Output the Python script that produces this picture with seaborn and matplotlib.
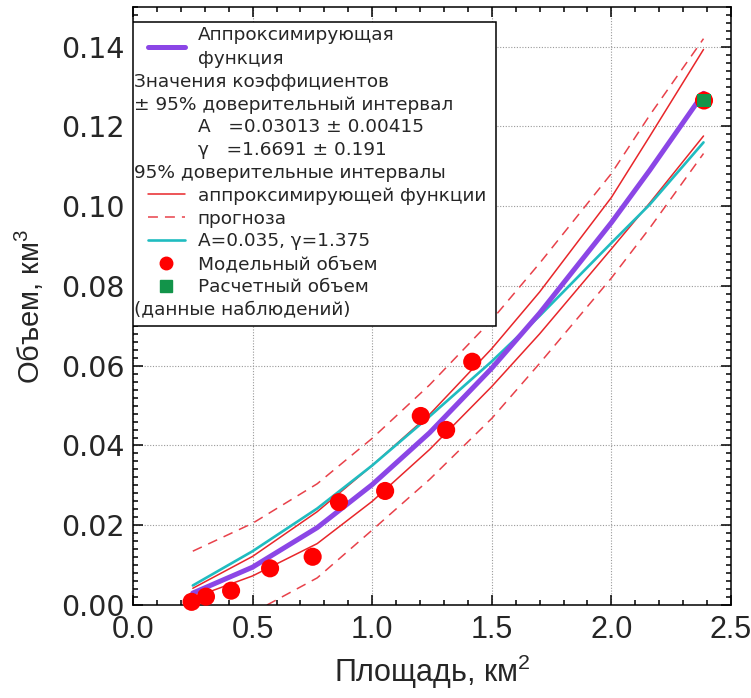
import seaborn as sns
import matplotlib
matplotlib.use('Agg')
import matplotlib.pyplot as plt
from matplotlib.lines import Line2D
from matplotlib.patches import Rectangle
from matplotlib.legend_handler import HandlerLine2D
from matplotlib.ticker import MultipleLocator, FormatStrFormatter
from matplotlib.transforms import Affine2D

area_model = [0.245, 0.305, 0.41, 0.573, 0.751, 0.861, 1.054, 1.203, 1.309, 1.418, 2.387]
vol_model = [0.0008, 0.0021, 0.0036, 0.0092, 0.0121, 0.0258, 0.0286, 0.0474, 0.0439, 0.061, 0.1265]
area_calc = [2.387]
vol_calc = [0.1265]

# Кривые: аппроксимация и доверительные интервалы
area_fit = [0.25, 0.5, 0.77, 1.0, 1.24, 1.5, 1.7, 2.0, 2.16, 2.385]
vol_fit = [0.0030, 0.0095, 0.0194, 0.0302, 0.0432, 0.0594, 0.0732, 0.0959, 0.1090, 0.1283]
conf_upper = [0.0042, 0.0122, 0.0234, 0.0350, 0.0478, 0.0643, 0.0785, 0.1022, 0.1175, 0.1393]
conf_lower = [0.0018, 0.0073, 0.0154, 0.0260, 0.0390, 0.0548, 0.0680, 0.0893, 0.1008, 0.1176]
vol_alt = [0.0049, 0.0135, 0.0242, 0.0350, 0.0473, 0.0611, 0.0725, 0.0908, 0.1004, 0.1160]
pred_upper = [0.0135, 0.0205, 0.0304, 0.0418, 0.0552, 0.0715, 0.0857, 0.1082, 0.1228, 0.1420]
area_pred_lower = [0.56, 0.77, 1.0, 1.24, 1.5, 1.7, 2.0, 2.16, 2.385]
pred_lower = [0.0, 0.0068, 0.0188, 0.0315, 0.0468, 0.0606, 0.0820, 0.0945, 0.1132]

purple = '#8b46e6'
cyan = '#20bcc0'
red = '#e8262a'
red_dash = '#e8414a'
green = '#12944a'

sns.set_style('ticks')
plt.rcParams['font.family'] = ['DejaVu Sans']
plt.rcParams['mathtext.default'] = 'regular'
arial = ['Liberation Sans', 'DejaVu Sans']

fig, ax = plt.subplots(figsize=(7.51, 6.98), dpi=100)
fig.subplots_adjust(left=0.1771, right=0.9734, bottom=0.1332, top=0.9903)

# Линии
dash = (0, (6.5, 4.6))
sns.lineplot(x=area_pred_lower, y=pred_lower, ax=ax, color=red_dash, lw=1.1, linestyle=dash)
sns.lineplot(x=area_fit, y=pred_upper, ax=ax, color=red_dash, lw=1.1, linestyle=dash)
sns.lineplot(x=area_fit, y=conf_upper, ax=ax, color=red, lw=1.1)
sns.lineplot(x=area_fit, y=conf_lower, ax=ax, color=red, lw=1.1)
sns.lineplot(x=area_fit, y=vol_alt, ax=ax, color=cyan, lw=1.9)
sns.lineplot(x=area_fit, y=vol_fit, ax=ax, color=purple, lw=3.6)

# Точки
sns.scatterplot(x=area_model, y=vol_model, ax=ax, color='#ff0000', s=170,
                edgecolor='none', zorder=5, clip_on=False)
sns.scatterplot(x=area_calc, y=vol_calc, ax=ax, color=green, marker='s', s=95,
                edgecolor='none', zorder=6, clip_on=False)

ax.set_xlim(0, 2.5)
ax.set_ylim(0, 0.15)
ax.xaxis.set_major_locator(MultipleLocator(0.5))
ax.xaxis.set_minor_locator(MultipleLocator(0.1))
ax.yaxis.set_major_locator(MultipleLocator(0.02))
ax.yaxis.set_minor_locator(MultipleLocator(0.002))
ax.xaxis.set_major_formatter(FormatStrFormatter('%.1f'))
ax.yaxis.set_major_formatter(FormatStrFormatter('%.2f'))

ax.tick_params(which='both', direction='in', top=True, right=True, width=1.1, color='black')
ax.tick_params(which='major', length=7.5)
ax.tick_params(which='minor', length=3.8)
ax.tick_params(axis='y', labelsize=20.5, pad=6)
ax.tick_params(axis='x', labelsize=22, pad=7, labelfontfamily=arial)
for sp in ax.spines.values():
    sp.set_linewidth(1.1)
    sp.set_color('black')

ax.grid(True, which='major', linestyle=(0, (1, 1.5)), color='#9a9a9a', lw=0.8)

ax.set_xlabel('Площадь, км$^2$', fontsize=22, family=arial)
ax.set_ylabel('Объем, км$^3$', fontsize=21, family=arial)
ax.xaxis.set_label_coords(0.5, -0.08)
ax.yaxis.set_label_coords(-0.145, 0.5)

# Легенда
blank = Line2D([], [], linestyle='none')
handles = [
    Line2D([], [], color=purple, lw=3.6),
    blank, blank, blank, blank, blank,
    Line2D([], [], color=red, lw=1.1),
    Line2D([], [], color=red_dash, lw=1.1, linestyle=dash),
    Line2D([], [], color=cyan, lw=1.9),
    Line2D([], [], color='#ff0000', marker='o', markersize=9, linestyle='none'),
    Line2D([], [], color=green, marker='s', markersize=8.5, linestyle='none'),
    blank,
]
labels = [
    'Аппроксимирующая\nфункция',
    'Значения коэффициентов',
    '± 95% доверительный интервал',
    'A   =0.03013 ± 0.00415',
    'γ   =1.6691 ± 0.191',
    '95% доверительные интервалы',
    'аппроксимирующей функции',
    'прогноза',
    'A=0.035, γ=1.375',
    'Модельный объем',
    'Расчетный объем',
    '(данные наблюдений)',
]
leg = ax.legend(handles, labels, loc='upper left', bbox_to_anchor=(0, 0.9746),
                borderaxespad=0, fontsize=13.3, frameon=True, fancybox=False,
                borderpad=0.2, labelspacing=0.26,
                handlelength=2.6, handletextpad=0.7,
                handler_map={Line2D: HandlerLine2D(xpad=0.6)})
leg.get_frame().set_visible(False)
leg.set_zorder(10)
leg.get_texts()[0].set_linespacing(1.45)

# строки без маркера сдвигаем к левому краю рамки
fig.canvas.draw()
fb = leg.get_frame().get_window_extent()
for i in [1, 2, 5, 11]:
    t = leg.get_texts()[i]
    dx = t.get_window_extent().x0 - (fb.x0 + 1)
    t.set_transform(t.get_transform() + Affine2D().translate(-dx, 0))

# рамка легенды по фактической ширине текста
x1 = max(t.get_window_extent().x1 for t in leg.get_texts()) + 10
inv = ax.transAxes.inverted()
(ax0, ay0), (ax1, ay1) = inv.transform([(fb.x0, fb.y0 - 4), (x1, fb.y1)])
ax.add_patch(Rectangle((ax0, ay0), ax1 - ax0, ay1 - ay0, transform=ax.transAxes,
                       facecolor='white', edgecolor='black', lw=1.1, zorder=9))

fig.savefig('out.png', dpi=100)
